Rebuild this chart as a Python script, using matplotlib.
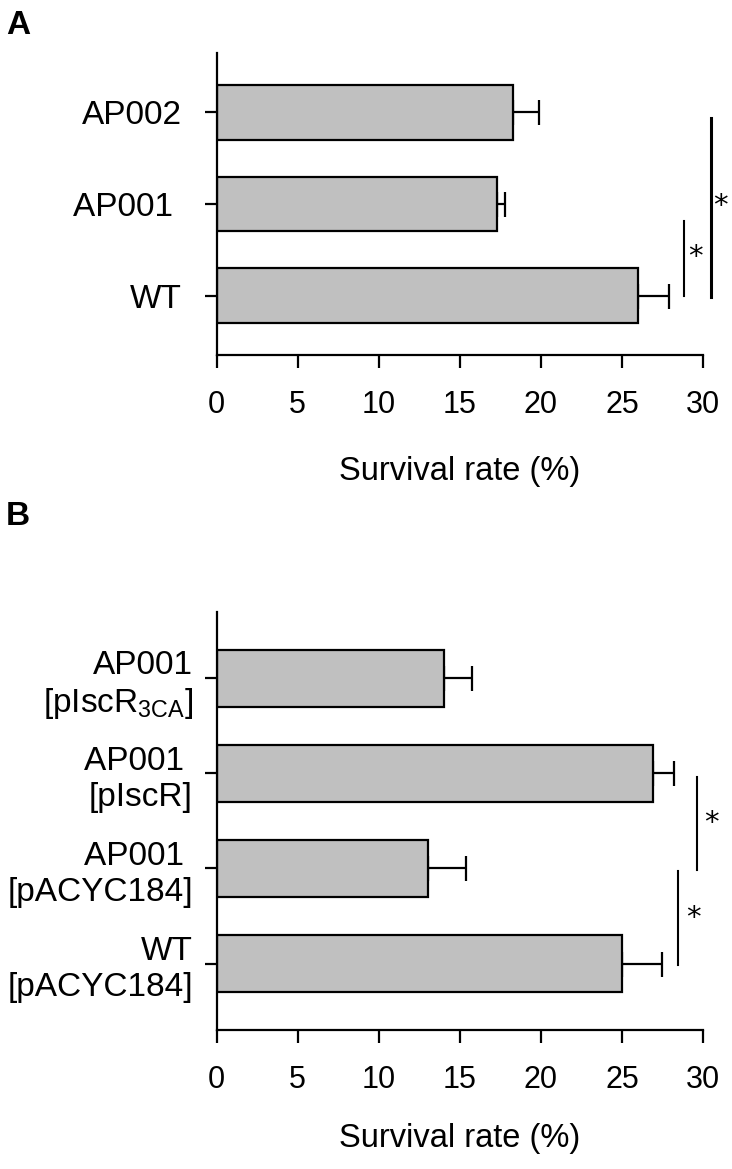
import matplotlib
matplotlib.use('Agg')
import matplotlib.pyplot as plt

plt.rcParams['font.family'] = ['Liberation Sans', 'DejaVu Sans']
plt.rcParams['mathtext.fontset'] = 'custom'
plt.rcParams['mathtext.rm'] = 'Liberation Sans'

# panel A data (bottom to top)
a_labels = ['WT', 'AP001 ', 'AP002']
a_means = [26.0, 17.3, 18.3]
a_err = [1.9, 0.5, 1.6]

# panel B data (bottom to top)
b_labels = ['WT\n[pACYC184]', 'AP001 \n[pACYC184]', 'AP001 \n[pIscR]',
            'AP001\n[pIscR$_{\\mathrm{3CA}}$]']
b_means = [25.0, 13.05, 26.9, 14.0]
b_err = [2.45, 2.35, 1.3, 1.75]

x_ticks = [0, 5, 10, 15, 20, 25, 30]

# significance lines: (x, y_start, y_end, star_x, star_y, linewidth)
a_sig = [(28.8, 0.0, 0.81, 29.55, 0.42, 1.5),
         (30.5, -0.02, 1.94, 31.05, 0.98, 2.2)]
b_sig = [(28.45, -0.02, 0.97, 29.4, 0.48, 1.5),
         (29.6, 0.98, 1.96, 30.5, 1.48, 1.5)]

BAR_COLOR = '#c0c0c0'
FS_TICK = 22
FS_LABEL = 24


def draw_panel(ax, labels, means, errs, sigs, ylim, ypad):
    pos = list(range(len(labels)))
    ax.barh(pos, means, height=0.6, color=BAR_COLOR, edgecolor='black', linewidth=1.6, zorder=2)
    ax.errorbar(means, pos, xerr=[[0] * len(errs), errs], fmt='none', ecolor='black',
                elinewidth=1.6, capsize=9, capthick=1.6, zorder=1)

    ax.set_xlim(0, 30)
    ax.set_ylim(*ylim)
    ax.set_xticks(x_ticks)
    ax.set_yticks(pos)
    ax.set_yticklabels(labels, fontsize=FS_LABEL, ha='right', multialignment='right')
    ax.tick_params(axis='x', labelsize=FS_TICK, length=9, width=1.6, pad=16)
    ax.tick_params(axis='y', length=9, width=1.6, pad=ypad)

    for side in ['top', 'right']:
        ax.spines[side].set_visible(False)
    for side in ['left', 'bottom']:
        ax.spines[side].set_linewidth(1.6)

    for (x, y0, y1, sx, sy, lw) in sigs:
        ax.plot([x, x], [y0, y1], color='black', lw=lw, clip_on=False)
        ax.text(sx, sy, '*', fontsize=21, family='DejaVu Sans', ha='center', va='center', clip_on=False)


fig = plt.figure(figsize=(7.32, 11.69), dpi=100)

ax1 = fig.add_axes([0.2958, 0.6963, 0.6646, 0.2584])
draw_panel(ax1, a_labels, a_means, a_err, a_sig, (-0.65, 2.65), 16)
ax1.set_xlabel('Survival rate (%)', fontsize=23.5, labelpad=26)

ax2 = fig.add_axes([0.2958, 0.1189, 0.6646, 0.3576])
draw_panel(ax2, b_labels, b_means, b_err, b_sig, (-0.70, 3.70), 8)
ax2.set_xlabel('Survival rate (%)', fontsize=23.5, labelpad=20)

fig.text(0.008, 1 - 34 / 1169, 'A', fontsize=24, fontweight='bold', va='baseline')
fig.text(0.008, 1 - 525 / 1169, 'B', fontsize=24, fontweight='bold', va='baseline')

fig.savefig('out.png', dpi=100)
